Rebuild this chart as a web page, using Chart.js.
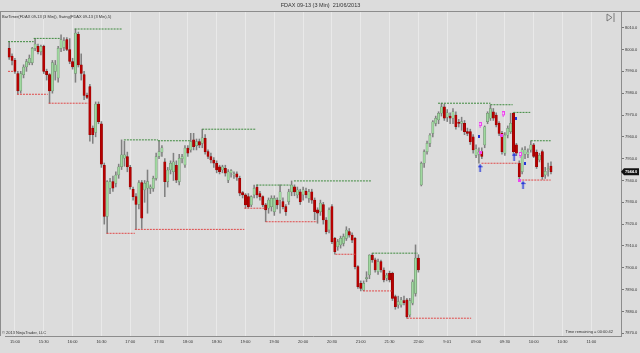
<!DOCTYPE html>
<html><head><meta charset="utf-8">
<script src="https://cdn.jsdelivr.net/npm/chart.js@4.4.1/dist/chart.umd.min.js"></script>
<style>html,body{margin:0;padding:0;background:#dcdcdc;overflow:hidden}</style>
</head><body>
<canvas id="c" width="640" height="353"></canvas>
<script>
// ---- DATA (3-minute bars, FDAX 09-13) ----
const opens = [
8000.5,7997,7995,7989,7981,7988.5,7992,7994,7994,8000.5,
8001.5,7999,8001.5,7990,7988.5,7981,7990,7987,8000.5,8001,
8004.5,8000,7994.5,7989,8007,7993,7988.5,7979,7983,7964,
7962,7975,7966,7947,7923.5,7936.5,7939.5,7938.7,7942.5,7946.3,
7950.2,7951,7946,7936,7932.6,7929,7939,7935.7,7936.5,7936.4,
7936.4,7941,7951,7953,7948.6,7939.5,7944.8,7944,7947,7939.5,
7950,7947.1,7954.8,7954,7958.6,7956,7957.8,7957,7959.3,7953.2,
7951,7949.4,7947.9,7946.3,7944.8,7945.6,7940.2,7943.5,7942.5,7943,
7941,7934.5,7933.4,7932.6,7928.8,7933.4,7937,7934,7932.6,7928.8,
7927.3,7928,7925.7,7931,7931,7930.3,7928,7930.3,7934.8,7937.1,
7933.4,7934.8,7933.4,7935,7931.8,7934.8,7931,7926.5,7925.7,7929,
7921.9,7917.3,7928,7913.5,7909.7,7910.5,7911.2,7913.5,7916.6,7915,
7913.5,7900.5,7892.9,7889.8,7895,7896.7,7905.8,7903.6,7898.2,7902.8,
7899,7895.2,7897.5,7897.5,7886.8,7883,7883,7885,7885.3,7878.4,
7883.8,7888.3,7904.4,7938,7947.9,7953.2,7957,7961.6,7966.2,7967.7,
7970.8,7973.8,7969,7969.5,7968.5,7970,7966.5,7966.2,7966.2,7962.4,
7962.4,7960,7951.5,7952,7953.2,7956.3,7967,7968.5,7971.5,7970,
7966.2,7961.6,7952.5,7960.8,7962.4,7970.8,7956.3,7947.9,7944,7952,
7952,7954,7956.3,7953,7949.4,7953.2,7942.5,7945,7946.6];
const highs = [
8003.6,7998,7996,7990,7990,7993,7995.5,7997.5,8001,8005.1,
8002.5,8002,8002,7991,7989,7995,7995,8001.5,8006.7,8005.5,
8005.5,8005,7996,8009.4,8008,7998,7990,7980,7984,7965,
7976,7976,7967,7948,7940,7941,7942,7944,7947.5,7958.6,
7958,7953,7947,7937,7934,7940,7940,7940,7944.8,7938,
7942,7952.5,7958.2,7956,7950,7946,7949,7952.5,7949,7952,
7952,7956,7956,7961.6,7961.6,7959,7959,7963.5,7961,7954,
7952.5,7950.5,7949,7947,7947,7947,7945,7945,7944,7944,
7942,7935,7934,7934,7933,7937.9,7938,7935,7933,7929.5,
7932,7933,7933,7932,7938,7932,7929,7936,7939.8,7938,
7937,7936,7937,7936.5,7936,7936,7932,7927.5,7931,7930,
7923,7927.5,7929,7914,7913,7914.5,7915.5,7918.8,7918,7916,
7914,7901,7894,7894,7898.2,7906,7906.7,7904.5,7904,7903.5,
7900,7897.5,7898.5,7898,7887.5,7887,7886.5,7887,7886,7886,
7894.5,7910.5,7906,7948.5,7954,7958,7961.5,7967.5,7969.5,7971.5,
7975.4,7975,7972.5,7971,7973,7971.5,7968,7969,7967.5,7964,
7963.5,7961,7956.3,7955,7955,7965,7971.5,7974.7,7973,7971,
7967,7962.5,7962,7965,7970.8,7971.2,7957,7949,7955,7955.5,
7954.5,7958.2,7957,7954,7952.5,7954,7946,7948,7948.5];
const lows = [
7995.5,7993,7989,7979.5,7980,7987,7990,7993,7993,7999.5,
7998,7997.5,7989,7986,7975.4,7980,7986,7985,7999,7999.5,
7999.5,7993.5,7991,7985,7992,7986,7977,7977.5,7958,7957,
7960,7966,7946,7920,7915.8,7934,7935,7937,7941,7945,
7946.5,7944,7936,7931,7917.6,7927,7918,7930,7925,7934,
7935,7940.2,7950,7951,7932.6,7937,7943,7940,7939,7938,
7948,7946,7951,7953,7954,7954,7955,7955,7952,7950,
7948,7946,7943.5,7943,7943.5,7942,7939,7941.5,7941,7940,
7933,7932,7927.3,7927.5,7928,7932,7932,7931,7928,7921.1,
7925,7926,7924,7927,7925,7927,7924,7929,7933,7933,
7932,7929,7931,7932,7930,7929.5,7922,7920.4,7924,7920,
7915.5,7916,7911,7906.2,7908,7909,7910,7912.5,7914,7911.5,
7899.5,7890.5,7889.4,7889.5,7893.6,7895,7902.5,7898,7897,7898,
7893.5,7894,7893.5,7885,7881,7881.5,7882,7883,7876.9,7877.5,
7883,7887,7898,7937.5,7946,7952,7955.5,7960,7965,7966,
7969.5,7967.5,7967,7966,7966,7963.5,7964.5,7963,7961,7960.5,
7956.5,7952.5,7950.5,7947.9,7950,7955,7966,7967.5,7967.5,7964.5,
7960.5,7952,7951.5,7959.5,7961.5,7952.5,7951.5,7940.2,7943,7950,
7950.5,7953,7950.5,7945.5,7948.5,7940.5,7941,7942,7943];
const closes = [
7996.5,7995,7990,7981,7989,7992,7994.5,7996,8000.5,8002.5,
7999,8001.5,7990,7988.5,7981,7994,7993,8000.5,8004.5,8004,
8000,7994.5,7992,8007.5,7993,7989,7979,7978,7961,7961,
7975,7967,7947.5,7923.5,7939.5,7939.5,7936.5,7942.5,7946.3,7951.7,
7951.7,7946.3,7937,7932.6,7929,7939,7922.7,7938.7,7939.5,7937.1,
7941,7951,7953.2,7955,7939.5,7944.8,7947.9,7948.6,7940.2,7950.2,
7951,7954.8,7952.5,7957.8,7955.5,7957.8,7956.2,7959.5,7953.2,7951,
7949.4,7947.9,7944.8,7944,7946.3,7943.3,7944,7944.5,7943,7941.5,
7934.2,7933.4,7928.8,7928,7932.6,7936.4,7933.4,7932.6,7928.8,7926.5,
7931,7931.8,7931.8,7928.8,7934.8,7928,7925.7,7934.8,7937.9,7934.8,
7935.7,7930.3,7935.7,7933.5,7934.8,7931,7925.7,7925,7929.6,7921.9,
7916.6,7926.5,7912,7907.4,7912,7913.5,7914.3,7917.3,7915,7912.7,
7900.5,7891.4,7890.6,7892.9,7895.5,7905.8,7903.6,7899,7902.8,7899,
7894.4,7896.7,7894.4,7886,7882.2,7884.5,7885.3,7884,7877.6,7885,
7893.6,7904.4,7899,7947.9,7953.2,7957,7960.8,7966.9,7968.5,7970.8,
7973.8,7968.5,7971,7968.5,7971.5,7964.6,7966.2,7967,7962.4,7961.6,
7957.8,7954,7954.5,7953,7951,7964.6,7970.8,7973,7968.5,7965.4,
7961.6,7953.2,7960.8,7963.9,7966.2,7953.2,7952.5,7941.7,7954,7954,
7953,7956.3,7951,7946.3,7951.5,7941.7,7944.2,7945.5,7944];

// swing indicator lines (bar index start / end, price)
const swingHighStart = [-0.4, 8.5, 22.7, 39.8, 51.6, 67, 85.8, 98.8, 126, 148.8, 167, 175, 181];
const swingHighEnd   = [8.5, 17.5, 39.3, 51.6, 62.8, 85.6, 97.6, 125.8, 141.8, 167, 174.7, 180.8, 187.9];
const swingHighPrice = [8003.6, 8005.1, 8009.4, 7958.6, 7958.2, 7963.5, 7937.9, 7939.8, 7906.7, 7975.4, 7974.7, 7971.2, 7958.2];
const swingLowStart  = [-0.4, 2.7, 13.7, 33.8, 43.6, 81.6, 89, 113.2, 122.8, 138, 163.9, 177];
const swingLowEnd    = [1.7, 13.4, 27.5, 43.6, 81.6, 89, 106.9, 120.1, 132.8, 160.3, 176.8, 187.9];
const swingLowPrice  = [7990, 7979.5, 7975.4, 7915.8, 7917.6, 7927.3, 7921.1, 7906.2, 7889.4, 7876.9, 7947.9, 7940.2];

// trade markers
const buyArrowX = [163.4, 175.2, 178.3];       const buyArrowY = [7945.6, 7950.9, 7937.9];
const sellArrowX = [163.4, 171.4, 177.3];      const sellArrowY = [7965.4, 7970.3, 7951.7];
const sellDotX = [163.7, 171.0, 177.2];        const sellDotY = [7952.9, 7960.4, 7940.2];
const buyDotX = [162.9, 175.8, 178.9];         const buyDotY = [7960.1, 7968.5, 7947.9];

// axes
const xTickIndex = [2,12,22,32,42,52,62,72,82,92,102,112,122,132,142,152,162,172,182,192,202];
const xTickLabels = ['15:00','15:30','16:00','16:30','17:00','17:30','18:00','18:30','19:00','19:30','20:00','20:30','21:00','21:30','22:00','9:01','09:00','09:30','10:00','10:30','11:00'];
const yTickValues = [7870,7880,7890,7900,7910,7920,7930,7940,7950,7960,7970,7980,7990,8000,8010];

// ---- build ----
const idx = opens.map((_, i) => i);
const bodyData = idx.map(i => ({x: i, y: [opens[i], closes[i]]}));
const wickData = idx.map(i => ({x: i, y: [lows[i], highs[i]]}));
const bodyColors = idx.map(i => closes[i] >= opens[i] ? '#9fd89f' : '#b80000');
const bodyBorders = idx.map(i => closes[i] >= opens[i] ? '#6b866b' : '#8c0000');

function segs(s, e, p) {
  const d = [];
  s.forEach((v, k) => { d.push({x: v, y: p[k]}, {x: e[k], y: p[k]}, {x: e[k], y: null}); });
  return d;
}
function pts(xs, ys) { return xs.map((x, k) => ({x: x, y: ys[k]})); }
function mk(w, h, draw) { const c = document.createElement('canvas'); c.width = w; c.height = h; draw(c.getContext('2d')); return c; }

const buyArrowImg = mk(5, 8, g => { g.fillStyle = '#2436d8'; g.beginPath(); g.moveTo(2.5,0); g.lineTo(5,3); g.lineTo(3.2,3); g.lineTo(3.2,8); g.lineTo(1.8,8); g.lineTo(1.8,3); g.lineTo(0,3); g.closePath(); g.fill(); });
const sellArrowImg = mk(3, 6, g => { g.fillStyle = '#ee44ee'; g.fillRect(0,0,3,4); g.fillStyle = '#ffffff'; g.fillRect(1,1,1,2); g.fillStyle = '#ee44ee'; g.fillRect(1,4,1,2); });
const sellDotImg = mk(3, 3, g => { g.fillStyle = '#ee44ee'; g.fillRect(0,0,3,3); });
const buyDotImg = mk(2, 3, g => { g.fillStyle = '#2436d8'; g.fillRect(0,0,2,3); });

const FONT = "'Liberation Sans', Arial, sans-serif";

const bgPlugin = {
  id: 'bg',
  beforeDraw(chart) {
    const g = chart.ctx; g.save(); g.fillStyle = '#dcdcdc'; g.fillRect(0, 0, chart.width, chart.height); g.restore();
  }
};
const decoPlugin = {
  id: 'deco',
  afterDraw(chart) {
    const g = chart.ctx, a = chart.chartArea, ys = chart.scales.y;
    g.save();
    g.strokeStyle = '#8c8c8c'; g.lineWidth = 1;
    g.beginPath(); g.moveTo(0, Math.round(a.top) + 0.5); g.lineTo(chart.width, Math.round(a.top) + 0.5); g.stroke();
    g.beginPath(); g.moveTo(0.5, a.top); g.lineTo(0.5, a.bottom); g.stroke();
    g.fillStyle = '#333'; g.textBaseline = 'middle';
    g.font = '4px ' + FONT; g.textAlign = 'left';
    g.fillText('BarTimer(FDAX 09-13 (3 Min)), Swing(FDAX 09-13 (3 Min),5)', 2, a.top + 6);
    g.fillText('\u00a9 2013 NinjaTrader, LLC', 2, a.bottom - 3);
    g.textAlign = 'right';
    g.fillText('Time remaining = 00:00:42', a.right - 8, a.bottom - 4);
    // close icon
    g.strokeStyle = '#666'; g.lineWidth = 0.8;
    g.beginPath(); g.moveTo(607, 14); g.lineTo(612, 17.5); g.lineTo(607, 21); g.closePath(); g.stroke();
    g.beginPath(); g.moveTo(614, 13); g.lineTo(614, 22); g.stroke();
    // current price marker
    const last = closes[closes.length - 1];
    const py = ys.getPixelForValue(last);
    g.fillStyle = '#111';
    g.beginPath(); g.moveTo(a.right, py); g.lineTo(a.right + 3, py - 3.5); g.lineTo(639, py - 3.5); g.lineTo(639, py + 3.5); g.lineTo(a.right + 3, py + 3.5); g.closePath(); g.fill();
    g.fillStyle = '#fff'; g.font = 'bold 4px ' + FONT; g.textAlign = 'left';
    g.fillText(last.toFixed(1), a.right + 4, py + 0.3);
    g.restore();
  }
};

new Chart(document.getElementById('c'), {
  type: 'bar',
  data: {
    datasets: [
      {type: 'scatter', label: 'buyArrow', data: pts(buyArrowX, buyArrowY), pointStyle: buyArrowImg, order: -3},
      {type: 'scatter', label: 'sellArrow', data: pts(sellArrowX, sellArrowY), pointStyle: sellArrowImg, order: -3},
      {type: 'scatter', label: 'sellDot', data: pts(sellDotX, sellDotY), pointStyle: sellDotImg, order: -3},
      {type: 'scatter', label: 'buyDot', data: pts(buyDotX, buyDotY), pointStyle: buyDotImg, order: -3},
      {type: 'line', label: 'swingHigh', data: segs(swingHighStart, swingHighEnd, swingHighPrice), borderColor: '#3d8a3d', borderWidth: 1, borderDash: [2, 1], pointRadius: 0, spanGaps: false, order: -1},
      {type: 'line', label: 'swingLow', data: segs(swingLowStart, swingLowEnd, swingLowPrice), borderColor: '#e04848', borderWidth: 1, borderDash: [2, 1], pointRadius: 0, spanGaps: false, order: -1},
      {label: 'body', data: bodyData, backgroundColor: bodyColors, borderColor: bodyBorders, borderWidth: 0.5, borderSkipped: false, barThickness: 2.3, minBarLength: 1, grouped: false, order: 1},
      {label: 'wick', data: wickData, backgroundColor: '#808080', barThickness: 0.9, grouped: false, order: 2}
    ]
  },
  options: {
    responsive: false, animation: false, devicePixelRatio: 1,
    layout: {padding: {left: 1, right: 0, top: 0, bottom: 0}},
    plugins: {
      legend: {display: false}, tooltip: {enabled: false},
      title: {display: true, text: 'FDAX 09-13 (3 Min)  21/06/2013', color: '#333', font: {size: 5.5, family: FONT, weight: 'normal'}, padding: {top: 2, bottom: 2.4}}
    },
    scales: {
      x: {
        type: 'linear', min: -1.45, max: 212.3, offset: false,
        afterBuildTicks: s => { s.ticks = xTickIndex.map(v => ({value: v})); },
        ticks: {callback: v => { const k = xTickIndex.indexOf(v); return k >= 0 ? xTickLabels[k] : ''; }, font: {size: 4, family: FONT}, color: '#333', maxRotation: 0, autoSkip: false, padding: 3},
        grid: {color: '#e9e9e9', lineWidth: 1, drawTicks: false, offset: false},
        border: {color: '#8c8c8c'},
        afterFit: s => { s.height = 17; }
      },
      y: {
        position: 'right', min: 7868.75, max: 8017.65,
        afterBuildTicks: s => { s.ticks = yTickValues.map(v => ({value: v})); },
        ticks: {callback: v => Number(v).toFixed(1), font: {size: 4, family: FONT}, color: '#333', padding: 1},
        grid: {drawOnChartArea: false, tickLength: 3, color: '#777'},
        border: {color: '#8c8c8c'},
        afterFit: s => { s.width = 19; }
      }
    }
  },
  plugins: [bgPlugin, decoPlugin]
});
</script>
</body></html>
